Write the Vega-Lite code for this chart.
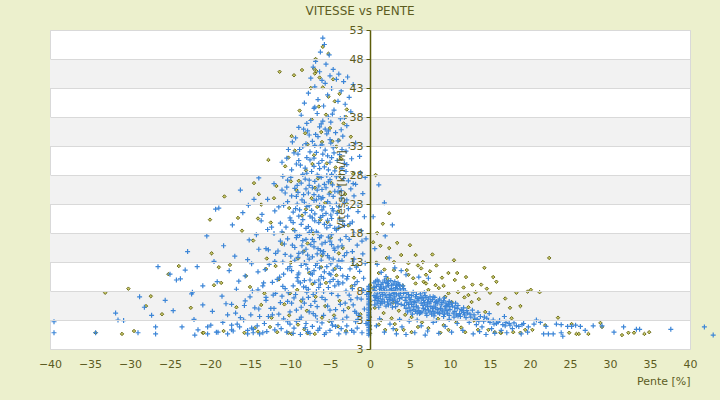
{
  "$schema": "https://vega.github.io/schema/vega-lite/v6.json",
  "width": 640,
  "height": 319,
  "autosize": "none",
  "padding": {"left": 50, "top": 30, "right": 30, "bottom": 51},
  "background": "#ecf0cd",
  "title": {"text": "VITESSE vs PENTE", "fontSize": 12, "fontWeight": "normal", "color": "#5c5c1f", "offset": 6, "dx": -10},
  "config": {
    "font": "DejaVu Sans",
    "view": {"stroke": "#d9d9d9", "fill": "white"},
    "axis": {"labelColor": "#5c5c1f", "titleColor": "#5c5c1f", "labelFontSize": 11, "titleFontSize": 11, "titleFontWeight": "normal", "labelOverlap": false}
  },
  "datasets": {
    "bands": [{"lo": 3, "hi": 8}, {"lo": 13, "hi": 18}, {"lo": 23, "hi": 28}, {"lo": 33, "hi": 38}, {"lo": 43, "hi": 48}],
    "olive": [
      {"x":-5.9,"y":50.1},{"x":-5.2,"y":48.9},{"x":-6.8,"y":48.0},{"x":-6.7,"y":45.9},{"x":-11.3,"y":45.8},{"x":-9.5,"y":45.2},{"x":-8.5,"y":46.1},{"x":-7.0,"y":46.3},{"x":-6.9,"y":45.5},{"x":-6.3,"y":44.8},{"x":-4.6,"y":44.5},{"x":-5.9,"y":43.1},{"x":-3.8,"y":42.0},{"x":-4.4,"y":40.7},{"x":-6.4,"y":39.8},{"x":-2.9,"y":39.3},{"x":-5.5,"y":38.4},{"x":-7.3,"y":37.6},{"x":-3.3,"y":36.9},{"x":-5.0,"y":36.1},{"x":-8.1,"y":35.2},{"x":-2.4,"y":34.6},{"x":-6.0,"y":33.7},{"x":-4.2,"y":32.9},{"x":-9.4,"y":32.2},{"x":-7.0,"y":31.4},{"x":-3.6,"y":30.8},{"x":-5.4,"y":30.0},{"x":-10.6,"y":29.5},{"x":-8.0,"y":28.8},{"x":-2.1,"y":28.2},{"x":-6.5,"y":27.4},{"x":-4.8,"y":26.6},{"x":-11.7,"y":26.1},{"x":-9.2,"y":25.4},{"x":-3.1,"y":24.7},{"x":-7.3,"y":24.0},{"x":-5.6,"y":23.2},{"x":-13.6,"y":22.9},{"x":-10.1,"y":22.3},{"x":-4.0,"y":21.7},{"x":-8.5,"y":21.0},{"x":-6.2,"y":20.3},{"x":-12.4,"y":19.8},{"x":-2.7,"y":19.3},{"x":-9.6,"y":18.6},{"x":-7.1,"y":17.9},{"x":-4.9,"y":17.2},{"x":-14.6,"y":16.7},{"x":-11.0,"y":16.1},{"x":-3.4,"y":15.4},{"x":-8.3,"y":14.8},{"x":-6.0,"y":14.1},{"x":-12.9,"y":13.6},{"x":-9.9,"y":12.9},{"x":-1.6,"y":12.5},{"x":-4.4,"y":11.8},{"x":-7.6,"y":11.1},{"x":-15.5,"y":10.6},{"x":-11.4,"y":10.0},{"x":-5.5,"y":9.4},{"x":-2.3,"y":8.8},{"x":-9.1,"y":8.2},{"x":-13.2,"y":7.6},{"x":-6.8,"y":7.0},{"x":-3.8,"y":6.3},{"x":-10.7,"y":5.7},{"x":-16.7,"y":5.2},{"x":-7.9,"y":4.6},{"x":-1.2,"y":4.0},{"x":-12.3,"y":3.4},{"x":-5.1,"y":2.8},{"x":-9.0,"y":2.2},{"x":-14.4,"y":1.6},{"x":-3.0,"y":1.1},{"x":-6.9,"y":0.6},{"x":-11.6,"y":0.9},{"x":-8.2,"y":1.4},{"x":-4.5,"y":3.8},{"x":-2.0,"y":10.3},{"x":-6.6,"y":22.5},{"x":-5.0,"y":25.0},{"x":-8.9,"y":27.0},{"x":-4.3,"y":29.3},{"x":-7.8,"y":33.3},{"x":-3.9,"y":34.0},{"x":-10.2,"y":31.0},{"x":-12.0,"y":24.0},{"x":-14.0,"y":20.5},{"x":-16.0,"y":18.4},{"x":-13.0,"y":11.8},{"x":-15.0,"y":8.7},{"x":-17.5,"y":12.5},{"x":-18.6,"y":9.4},{"x":-20.0,"y":20.3},{"x":-18.2,"y":24.3},
      {"x":-7.4,"y":43.0},{"x":-5.2,"y":41.5},{"x":-8.8,"y":39.1},{"x":-3.0,"y":38.0},{"x":-6.1,"y":35.4},{"x":-9.8,"y":34.7},{"x":-4.7,"y":33.8},{"x":-7.2,"y":29.9},{"x":-3.8,"y":27.9},{"x":-9.9,"y":26.9},{"x":-6.9,"y":25.8},{"x":-2.9,"y":23.0},{"x":-8.0,"y":22.1},{"x":-5.3,"y":19.9},{"x":-10.9,"y":18.0},{"x":-7.8,"y":16.2},{"x":-3.9,"y":14.5},{"x":-9.0,"y":13.6},{"x":-6.1,"y":12.1},{"x":-11.8,"y":12.3},{"x":-4.2,"y":10.7},{"x":-7.2,"y":9.2},{"x":-10.0,"y":7.6},{"x":-5.6,"y":5.4},{"x":-8.6,"y":6.3},{"x":-2.7,"y":5.1},{"x":-13.6,"y":5.6},{"x":-6.0,"y":3.4},{"x":-10.1,"y":3.8},{"x":-4.0,"y":1.9},{"x":-7.8,"y":0.7},{"x":-9.8,"y":0.6},
      {"x":-34.3,"y":0.8},{"x":-31.0,"y":0.6},{"x":-29.5,"y":1.1},{"x":-20.9,"y":0.8},{"x":-18.3,"y":1.1},{"x":-15.7,"y":0.8},{"x":-14.0,"y":1.0},{"x":-12.5,"y":1.8},{"x":-10.2,"y":0.8},{"x":-33.1,"y":7.7},{"x":-30.2,"y":8.4},{"x":-27.4,"y":7.1},{"x":-25.2,"y":10.9},{"x":-23.9,"y":12.3},{"x":-28.0,"y":5.4},{"x":-22.4,"y":5.1},{"x":-20.8,"y":0.8},{"x":-19.8,"y":14.5},{"x":-18.9,"y":12.1},{"x":-19.5,"y":9.0},{"x":-16.5,"y":20.6},{"x":-12.7,"y":30.6},{"x":-14.5,"y":26.6},{"x":-13.9,"y":24.7},{"x":-26.0,"y":4.0},
      {"x":0.9,"y":18.0},{"x":0.4,"y":16.4},{"x":2.4,"y":15.4},{"x":3.9,"y":14.2},{"x":5.7,"y":14.2},{"x":6.6,"y":13.0},{"x":4.8,"y":12.8},{"x":2.1,"y":13.7},{"x":1.1,"y":11.1},{"x":4.8,"y":10.8},{"x":7.0,"y":10.8},{"x":9.8,"y":11.1},{"x":12.0,"y":10.4},{"x":15.8,"y":9.6},{"x":18.3,"y":7.7},{"x":19.7,"y":7.9},{"x":20.1,"y":8.2},{"x":15.0,"y":7.7},{"x":13.2,"y":7.8},{"x":12.3,"y":7.3},{"x":11.0,"y":7.8},{"x":9.8,"y":7.6},{"x":8.6,"y":8.5},{"x":7.3,"y":8.2},{"x":8.2,"y":9.0},{"x":5.7,"y":9.3},{"x":9.4,"y":7.0},{"x":10.2,"y":6.1},{"x":12.7,"y":6.1},{"x":12.3,"y":5.2},{"x":17.5,"y":5.1},{"x":17.7,"y":3.3},{"x":19.4,"y":1.3},{"x":20.3,"y":1.3},{"x":16.4,"y":0.8},{"x":15.6,"y":0.9},{"x":14.8,"y":1.3},{"x":13.5,"y":1.3},{"x":11.9,"y":0.9},{"x":9.8,"y":1.3},{"x":8.8,"y":0.8},{"x":7.3,"y":1.6},{"x":6.0,"y":1.8},{"x":5.2,"y":0.9},{"x":4.2,"y":1.3},{"x":3.3,"y":1.3},{"x":1.9,"y":1.3},{"x":1.4,"y":3.0},{"x":1.7,"y":4.2},{"x":2.7,"y":3.3},{"x":3.6,"y":4.6},{"x":4.4,"y":3.9},{"x":5.2,"y":3.5},{"x":0.4,"y":8.5},{"x":31.5,"y":0.4},{"x":32.3,"y":0.8},{"x":33.0,"y":0.8},{"x":34.3,"y":0.6},{"x":34.9,"y":0.9},{"x":28.8,"y":2.5},{"x":29.0,"y":1.8},{"x":27.3,"y":0.6},{"x":25.8,"y":0.6},{"x":26.1,"y":0.6},{"x":25.2,"y":2.3},{"x":24.9,"y":0.8},{"x":18.8,"y":0.8},{"x":17.9,"y":0.9},{"x":16.3,"y":0.8},{"x":22.4,"y":13.7},{"x":15.4,"y":10.4},{"x":21.2,"y":7.8},{"x":23.5,"y":3.4},{"x":21.9,"y":2.1},{"x":10.6,"y":9.9},{"x":11.7,"y":8.6},{"x":13.9,"y":9.1},{"x":6.4,"y":11.9},{"x":3.0,"y":11.6},{"x":8.3,"y":12.4},{"x":2.2,"y":10.1},{"x":0.8,"y":12.9},{"x":1.6,"y":19.6},{"x":2.4,"y":21.4},{"x":0.7,"y":28.0},{"x":3.4,"y":16.3},{"x":5.0,"y":15.9},{"x":7.8,"y":14.3},{"x":10.5,"y":13.3},{"x":14.3,"y":12.0},{"x":4.1,"y":8.9},{"x":6.7,"y":9.6},{"x":2.9,"y":6.0},{"x":0.6,"y":5.1},{"x":1.1,"y":2.2},{"x":8.5,"y":3.2},{"x":10.8,"y":2.6},{"x":13.0,"y":2.9},{"x":14.4,"y":4.4},{"x":16.0,"y":5.8},
      {"x":1.3,"y":15.8},{"x":3.0,"y":13.0},{"x":4.6,"y":11.6},{"x":6.0,"y":12.4},{"x":7.5,"y":11.4},{"x":9.0,"y":10.3},{"x":10.9,"y":11.1},{"x":12.8,"y":9.1},{"x":14.6,"y":8.4},{"x":16.9,"y":6.7},{"x":18.8,"y":5.4},{"x":5.4,"y":10.2},{"x":3.4,"y":10.4},{"x":1.8,"y":11.7},{"x":11.8,"y":6.9},{"x":13.6,"y":6.6},{"x":9.2,"y":8.9},{"x":7.0,"y":9.3},{"x":3.1,"y":2.3},{"x":6.5,"y":2.6},{"x":9.2,"y":2.1},{"x":11.4,"y":1.7},
      {"x":0.0,"y":0.7},{"x":0.0,"y":2.0},{"x":0.0,"y":3.5},{"x":0.0,"y":4.9},{"x":0.0,"y":6.2},{"x":0.0,"y":7.7},{"x":0.0,"y":9.0},{"x":0.0,"y":1.4},{"x":0.0,"y":5.6}
    ],
    "blue": [
      {"x":-5.9,"y":51.6},{"x":-5.7,"y":50.5},{"x":-6.2,"y":49.2},{"x":-5.1,"y":48.7},{"x":-6.8,"y":47.6},{"x":-5.5,"y":47.1},{"x":-7.1,"y":46.6},{"x":-4.6,"y":46.2},{"x":-6.3,"y":45.8},{"x":-3.9,"y":45.4},{"x":-5.0,"y":45.1},{"x":-2.8,"y":44.9},{"x":-7.4,"y":44.7},{"x":-4.2,"y":44.5},{"x":-6.0,"y":44.3},{"x":-3.3,"y":44.1},{"x":-5.6,"y":43.8},{"x":-2.1,"y":43.6},{"x":-6.9,"y":43.2},{"x":-4.8,"y":42.9},{"x":-3.6,"y":42.5},{"x":-7.7,"y":42.1},{"x":-5.3,"y":41.8},{"x":-2.6,"y":41.4},{"x":-6.5,"y":41.0},{"x":-4.0,"y":40.7},{"x":-8.2,"y":40.4},{"x":-3.1,"y":40.2},{"x":-5.8,"y":39.9},{"x":-7.0,"y":39.5},{"x":-4.5,"y":39.2},{"x":-2.4,"y":38.9},{"x":-6.6,"y":38.6},{"x":-8.6,"y":38.3},{"x":-5.2,"y":38.0},{"x":-3.7,"y":37.7},{"x":-7.4,"y":37.4},{"x":-4.9,"y":37.1},{"x":-6.1,"y":36.8},{"x":-2.9,"y":36.5},{"x":-8.9,"y":36.2},{"x":-5.6,"y":35.9},{"x":-7.8,"y":35.6},{"x":-4.3,"y":35.3},{"x":-6.8,"y":35.0},{"x":-3.4,"y":34.7},{"x":-9.3,"y":34.4},{"x":-5.0,"y":34.1},{"x":-7.2,"y":33.8},{"x":-1.8,"y":33.5},{"x":-6.0,"y":33.2},{"x":-8.4,"y":32.9},{"x":-4.6,"y":32.7},{"x":-10.2,"y":32.4},{"x":-3.0,"y":32.1},{"x":-6.7,"y":31.9},{"x":-9.0,"y":31.6},{"x":-5.3,"y":31.3},{"x":-7.9,"y":31.0},{"x":-2.3,"y":30.8},{"x":-4.1,"y":30.5},{"x":-11.0,"y":30.2},{"x":-6.4,"y":30.0},{"x":-8.7,"y":29.7},{"x":-5.7,"y":29.4},{"x":-3.5,"y":29.1},{"x":-9.8,"y":28.9},{"x":-7.3,"y":28.6},{"x":-1.2,"y":28.4},{"x":-4.8,"y":28.1},{"x":-10.9,"y":27.8},{"x":-6.1,"y":27.6},{"x":-8.1,"y":27.3},{"x":-2.7,"y":27.0},{"x":-5.2,"y":26.8},{"x":-12.0,"y":26.5},{"x":-7.6,"y":26.2},{"x":-3.9,"y":26.0},{"x":-9.4,"y":25.7},{"x":-6.6,"y":25.4},{"x":-4.4,"y":25.2},{"x":-10.6,"y":24.9},{"x":-8.3,"y":24.6},{"x":-2.0,"y":24.4},{"x":-5.9,"y":24.1},{"x":-12.8,"y":23.8},{"x":-7.0,"y":23.6},{"x":-3.2,"y":23.3},{"x":-9.1,"y":23.0},{"x":-6.3,"y":22.8},{"x":-11.4,"y":22.5},{"x":-4.7,"y":22.2},{"x":-8.8,"y":22.0},{"x":-1.5,"y":21.7},{"x":-5.5,"y":21.4},{"x":-13.5,"y":21.2},{"x":-7.5,"y":20.9},{"x":-10.0,"y":20.6},{"x":-3.8,"y":20.4},{"x":-6.9,"y":20.1},{"x":-9.6,"y":19.8},{"x":-2.5,"y":19.6},{"x":-5.0,"y":19.3},{"x":-12.3,"y":19.0},{"x":-8.0,"y":18.8},{"x":-4.2,"y":18.5},{"x":-11.0,"y":18.2},{"x":-6.5,"y":18.0},{"x":-14.2,"y":17.7},{"x":-3.0,"y":17.4},{"x":-9.2,"y":17.2},{"x":-7.2,"y":16.9},{"x":-1.0,"y":16.6},{"x":-5.6,"y":16.4},{"x":-10.7,"y":16.1},{"x":-8.5,"y":15.8},{"x":-4.0,"y":15.6},{"x":-13.0,"y":15.3},{"x":-6.2,"y":15.0},{"x":-2.2,"y":14.8},{"x":-11.8,"y":14.5},{"x":-7.8,"y":14.2},{"x":-9.9,"y":14.0},{"x":-5.1,"y":13.7},{"x":-15.3,"y":13.4},{"x":-3.5,"y":13.2},{"x":-8.2,"y":12.9},{"x":-12.6,"y":12.6},{"x":-6.8,"y":12.4},{"x":-1.7,"y":12.1},{"x":-10.3,"y":11.8},{"x":-4.6,"y":11.6},{"x":-14.0,"y":11.3},{"x":-7.4,"y":11.0},{"x":-9.0,"y":10.8},{"x":-2.8,"y":10.5},{"x":-5.8,"y":10.2},{"x":-11.6,"y":10.0},{"x":-16.4,"y":9.7},{"x":-8.7,"y":9.4},{"x":-3.9,"y":9.2},{"x":-13.4,"y":8.9},{"x":-6.4,"y":8.6},{"x":-10.6,"y":8.4},{"x":-0.8,"y":8.1},{"x":-7.9,"y":7.8},{"x":-4.8,"y":7.6},{"x":-12.1,"y":7.3},{"x":-15.0,"y":7.0},{"x":-9.5,"y":6.8},{"x":-2.4,"y":6.5},{"x":-6.9,"y":6.2},{"x":-11.2,"y":6.0},{"x":-17.3,"y":5.7},{"x":-5.3,"y":5.4},{"x":-8.6,"y":5.2},{"x":-13.9,"y":4.9},{"x":-3.3,"y":4.6},{"x":-10.0,"y":4.4},{"x":-7.1,"y":4.1},{"x":-1.4,"y":3.8},{"x":-12.7,"y":3.6},{"x":-4.4,"y":3.3},{"x":-15.8,"y":3.0},{"x":-9.2,"y":2.8},{"x":-6.0,"y":2.5},{"x":-11.5,"y":2.2},{"x":-2.9,"y":2.0},{"x":-8.1,"y":1.7},{"x":-14.6,"y":1.4},{"x":-5.0,"y":1.2},{"x":-10.4,"y":0.9},{"x":-7.5,"y":0.7},{"x":-3.6,"y":1.5},{"x":-12.9,"y":1.0},
      {"x":-6.5,"y":34.6},{"x":-4.0,"y":33.9},{"x":-8.0,"y":33.4},{"x":-5.6,"y":32.3},{"x":-9.5,"y":31.8},{"x":-3.8,"y":31.5},{"x":-7.0,"y":30.9},{"x":-5.0,"y":30.2},{"x":-8.9,"y":30.5},{"x":-2.9,"y":29.8},{"x":-6.3,"y":29.1},{"x":-4.4,"y":28.7},{"x":-7.9,"y":28.3},{"x":-9.9,"y":27.6},{"x":-5.4,"y":27.9},{"x":-3.3,"y":27.4},{"x":-6.9,"y":26.9},{"x":-8.6,"y":26.6},{"x":-4.7,"y":26.3},{"x":-10.4,"y":25.9},{"x":-2.4,"y":25.6},{"x":-6.0,"y":25.5},{"x":-7.7,"y":24.9},{"x":-5.1,"y":24.7},{"x":-9.2,"y":24.3},{"x":-3.6,"y":24.0},{"x":-6.7,"y":23.7},{"x":-8.2,"y":23.3},{"x":-4.2,"y":23.0},{"x":-10.8,"y":22.8},{"x":-5.8,"y":22.5},{"x":-2.7,"y":22.2},{"x":-7.3,"y":21.9},{"x":-9.6,"y":21.6},{"x":-4.9,"y":21.1},{"x":-6.2,"y":20.7},{"x":-8.4,"y":20.3},{"x":-3.4,"y":20.0},{"x":-11.2,"y":19.7},{"x":-5.7,"y":19.5},{"x":-7.7,"y":19.1},{"x":-4.4,"y":18.8},{"x":-9.4,"y":18.4},{"x":-6.7,"y":18.2},{"x":-2.0,"y":18.0},{"x":-8.8,"y":17.6},{"x":-5.2,"y":17.3},{"x":-10.3,"y":17.0},{"x":-3.7,"y":16.8},{"x":-7.0,"y":16.5},{"x":-6.0,"y":16.1},{"x":-9.7,"y":15.9},{"x":-4.5,"y":15.4},{"x":-8.0,"y":15.2},{"x":-11.5,"y":14.9},{"x":-2.9,"y":14.6},{"x":-6.6,"y":14.4},{"x":-5.3,"y":14.1},{"x":-9.0,"y":13.8},{"x":-7.6,"y":13.5},{"x":-3.9,"y":13.2},{"x":-10.9,"y":13.0},{"x":-4.9,"y":12.7},{"x":-8.6,"y":12.4},{"x":-6.3,"y":12.0},{"x":-2.5,"y":11.8},{"x":-9.8,"y":11.5},{"x":-5.7,"y":11.3},{"x":-7.2,"y":10.9},{"x":-3.4,"y":10.6},{"x":-11.3,"y":10.4},{"x":-4.6,"y":10.0},{"x":-8.2,"y":9.8},{"x":-6.9,"y":9.5},{"x":-1.9,"y":9.1},{"x":-9.6,"y":8.9},{"x":-5.2,"y":8.6},{"x":-7.7,"y":8.3},{"x":-3.0,"y":8.0},{"x":-10.2,"y":7.7},
      {"x":-6.2,"y":33.0},{"x":-5.2,"y":35.6},{"x":-7.5,"y":32.0},{"x":-4.8,"y":31.0},{"x":-3.2,"y":30.0},{"x":-8.1,"y":29.2},{"x":-6.6,"y":28.0},{"x":-5.0,"y":27.2},{"x":-7.2,"y":25.8},{"x":-9.0,"y":25.0},{"x":-4.0,"y":25.1},{"x":-6.4,"y":24.3},{"x":-5.3,"y":23.4},{"x":-7.9,"y":22.6},{"x":-4.6,"y":21.8},{"x":-6.9,"y":21.3},{"x":-8.9,"y":20.9},{"x":-5.3,"y":20.2},{"x":-3.9,"y":19.0},{"x":-7.3,"y":18.5},{"x":-6.1,"y":17.5},{"x":-8.4,"y":16.7},{"x":-4.8,"y":16.0},{"x":-7.0,"y":15.6},{"x":-5.8,"y":14.8},{"x":-8.9,"y":14.5},{"x":-6.1,"y":13.3},{"x":-4.1,"y":12.3},{"x":-7.8,"y":11.8},{"x":-5.1,"y":11.0},{"x":-9.1,"y":10.3},{"x":-6.4,"y":9.9},{"x":-4.0,"y":9.6},{"x":-8.3,"y":8.7},{"x":-5.8,"y":7.9},{"x":-7.1,"y":7.4},
      {"x":-6.9,"y":39.7},{"x":-4.7,"y":38.5},{"x":-5.9,"y":37.3},{"x":-7.9,"y":36.9},{"x":-3.2,"y":37.9},{"x":-6.3,"y":36.3},{"x":-8.3,"y":35.9},{"x":-5.4,"y":35.1},{"x":-3.6,"y":35.8},{"x":-7.6,"y":34.9},{"x":-9.7,"y":33.7},{"x":-4.9,"y":33.5},{"x":-6.9,"y":33.1},{"x":-2.6,"y":33.0},{"x":-8.8,"y":32.4},{"x":-5.9,"y":31.6},{"x":-3.5,"y":32.4},{"x":-7.5,"y":30.6},{"x":-10.4,"y":30.9},{"x":-6.0,"y":30.5},{"x":-4.5,"y":31.8},
      {"x":-9.2,"y":29.9},{"x":-7.0,"y":29.5},{"x":-5.2,"y":28.9},{"x":-3.0,"y":28.6},{"x":-8.4,"y":28.1},{"x":-6.4,"y":27.8},{"x":-10.3,"y":27.1},{"x":-4.2,"y":27.7},{"x":-7.6,"y":27.1},{"x":-5.7,"y":26.4},{"x":-9.1,"y":26.2},{"x":-2.1,"y":26.5},{"x":-6.4,"y":26.1},{"x":-8.0,"y":25.6},{"x":-3.6,"y":25.3},{"x":-11.0,"y":25.4},{"x":-5.5,"y":25.8},
      {"x":-7.0,"y":24.6},{"x":-9.8,"y":24.4},{"x":-4.6,"y":24.3},{"x":-6.1,"y":23.9},{"x":-8.5,"y":23.7},{"x":-2.9,"y":23.7},{"x":-10.3,"y":23.4},{"x":-5.0,"y":23.0},{"x":-7.6,"y":22.7},{"x":-3.9,"y":22.5},{"x":-9.3,"y":22.2},{"x":-6.0,"y":22.0},{"x":-11.9,"y":21.8},{"x":-8.1,"y":21.5},{"x":-4.1,"y":21.4},{"x":-5.9,"y":21.0},{"x":-7.2,"y":20.6},{"x":-9.9,"y":20.2},{"x":-2.8,"y":20.9},{"x":-4.8,"y":20.5},
      {"x":-6.4,"y":19.8},{"x":-8.6,"y":19.5},{"x":-3.2,"y":19.3},{"x":-10.5,"y":19.0},{"x":-5.4,"y":18.9},{"x":-7.6,"y":18.1},{"x":-12.0,"y":17.9},{"x":-4.8,"y":17.7},{"x":-9.1,"y":17.6},{"x":-6.3,"y":17.2},{"x":-2.6,"y":16.9},{"x":-8.0,"y":16.9},{"x":-11.2,"y":16.6},{"x":-5.0,"y":16.6},{"x":-7.4,"y":16.0},{"x":-3.5,"y":15.8},{"x":-9.4,"y":15.5},{"x":-6.5,"y":15.3},{"x":-12.7,"y":15.1},{"x":-4.4,"y":15.0},
      {"x":-8.4,"y":14.7},{"x":-5.9,"y":14.4},{"x":-10.6,"y":14.3},{"x":-3.2,"y":14.1},{"x":-7.2,"y":13.9},{"x":-4.6,"y":13.5},{"x":-9.4,"y":13.3},{"x":-11.9,"y":13.1},{"x":-6.6,"y":12.8},{"x":-2.2,"y":13.0},{"x":-8.0,"y":12.6},{"x":-5.4,"y":12.2},{"x":-10.0,"y":12.2},{"x":-3.7,"y":11.9},{"x":-7.0,"y":11.5},{"x":-13.1,"y":11.7},{"x":-8.9,"y":11.1},{"x":-4.9,"y":10.8},{"x":-6.1,"y":10.5},{"x":-10.8,"y":10.9},{"x":-2.9,"y":10.1},
      {"x":-7.5,"y":9.9},{"x":-5.0,"y":9.6},{"x":-9.0,"y":9.7},{"x":-3.4,"y":9.4},{"x":-12.2,"y":9.5},{"x":-6.2,"y":9.2},{"x":-10.9,"y":8.8},{"x":-4.4,"y":8.9},{"x":-8.0,"y":8.6},{"x":-2.2,"y":8.4},{"x":-14.0,"y":8.2},{"x":-6.7,"y":7.9},{"x":-11.8,"y":7.6},{"x":-9.3,"y":7.4},{"x":-4.0,"y":7.2},{"x":-7.7,"y":6.9},{"x":-1.6,"y":6.8},{"x":-13.0,"y":6.4},{"x":-5.6,"y":6.5},{"x":-10.3,"y":6.2},{"x":-8.2,"y":5.9},{"x":-3.1,"y":5.9},{"x":-15.7,"y":5.5},{"x":-6.6,"y":5.3},{"x":-12.4,"y":5.0},{"x":-4.3,"y":4.8},{"x":-9.2,"y":4.7},{"x":-1.9,"y":4.5},{"x":-7.6,"y":4.4},
      {"x":-11.4,"y":4.0},{"x":-5.8,"y":3.8},{"x":-14.9,"y":3.9},{"x":-8.6,"y":3.5},{"x":-3.4,"y":3.0},{"x":-10.3,"y":2.7},{"x":-6.6,"y":2.9},{"x":-13.2,"y":2.4},{"x":-1.8,"y":2.7},{"x":-4.7,"y":2.1},{"x":-16.6,"y":2.3},{"x":-9.5,"y":1.6},{"x":-7.2,"y":1.9},{"x":-11.9,"y":1.3},{"x":-3.0,"y":0.8},{"x":-5.7,"y":0.5},{"x":-8.7,"y":0.5},{"x":-13.8,"y":0.6},{"x":-1.6,"y":1.6},{"x":-6.5,"y":1.2},
      {"x":-1.3,"y":31.2},{"x":-0.6,"y":27.6},{"x":-1.8,"y":26.4},{"x":-0.9,"y":24.8},{"x":-1.5,"y":22.9},{"x":-0.7,"y":20.8},{"x":-2.2,"y":19.9},{"x":-1.1,"y":18.4},{"x":-0.5,"y":17.0},{"x":-1.6,"y":15.9},{"x":-0.9,"y":14.4},{"x":-2.0,"y":13.5},{"x":-0.6,"y":12.8},{"x":-1.3,"y":11.4},{"x":-0.8,"y":10.2},{"x":-1.6,"y":9.6},{"x":-0.4,"y":7.4},{"x":-1.1,"y":6.6},{"x":-2.1,"y":5.6},{"x":-0.7,"y":4.9},{"x":-1.5,"y":3.1},{"x":-0.5,"y":2.4},{"x":-2.3,"y":1.2},{"x":-1.0,"y":0.8},
      {"x":-21.5,"y":1.3},{"x":-20.3,"y":1.8},{"x":-19.0,"y":0.9},{"x":-18.4,"y":2.6},{"x":-17.1,"y":1.1},{"x":-16.2,"y":3.4},{"x":-15.3,"y":0.6},{"x":-14.1,"y":2.0},{"x":-13.4,"y":0.8},{"x":-12.2,"y":3.9},{"x":-11.1,"y":1.5},{"x":-10.0,"y":2.3},{"x":-9.6,"y":0.7},{"x":-8.8,"y":3.1},{"x":-7.8,"y":1.0},{"x":-6.8,"y":3.7},{"x":-6.3,"y":1.6},{"x":-5.5,"y":0.8},{"x":-4.8,"y":2.7},{"x":-3.9,"y":0.6},{"x":-2.9,"y":3.5},{"x":-2.0,"y":0.9},{"x":-19.7,"y":4.5},{"x":-18.0,"y":5.8},{"x":-16.8,"y":4.2},{"x":-15.6,"y":6.3},{"x":-14.4,"y":5.1},{"x":-13.0,"y":6.9},{"x":-12.0,"y":5.0},{"x":-11.0,"y":7.1},{"x":-9.8,"y":5.9},{"x":-8.4,"y":6.6},{"x":-7.4,"y":5.5},{"x":-6.0,"y":6.9},{"x":-5.0,"y":4.7},{"x":-3.7,"y":5.7},{"x":-2.6,"y":7.3},{"x":-1.7,"y":4.2},{"x":-4.3,"y":1.9},{"x":-8.0,"y":2.4},{"x":-10.8,"y":3.2},{"x":-13.8,"y":3.6},{"x":-17.8,"y":3.9},
      {"x":-18.9,"y":22.3},{"x":-16.2,"y":25.4},{"x":-19.3,"y":22.1},{"x":-14.5,"y":23.8},{"x":-15.9,"y":21.5},{"x":-13.6,"y":20.1},{"x":-17.2,"y":19.4},{"x":-12.8,"y":18.6},{"x":-20.4,"y":17.5},{"x":-15.1,"y":16.8},{"x":-18.3,"y":15.8},{"x":-13.9,"y":15.2},{"x":-22.8,"y":14.8},{"x":-16.9,"y":14.0},{"x":-19.5,"y":13.1},{"x":-14.8,"y":12.7},{"x":-21.6,"y":12.2},{"x":-17.6,"y":11.5},{"x":-25.0,"y":10.9},{"x":-15.6,"y":10.6},{"x":-23.7,"y":10.1},{"x":-19.1,"y":9.6},{"x":-13.3,"y":9.4},{"x":-20.9,"y":8.9},{"x":-16.7,"y":8.3},{"x":-26.5,"y":12.2},{"x":-22.2,"y":7.8},{"x":-18.5,"y":7.1},{"x":-14.7,"y":8.0},{"x":-13.9,"y":27.5},{"x":-15.2,"y":22.8},
      {"x":-39.5,"y":0.8},{"x":-39.5,"y":2.7},{"x":-34.3,"y":0.8},{"x":-31.8,"y":4.2},{"x":-31.5,"y":3.0},{"x":-30.8,"y":2.9},{"x":-29.0,"y":0.8},{"x":-28.2,"y":5.2},{"x":-27.3,"y":3.8},{"x":-26.8,"y":1.8},{"x":-26.8,"y":0.6},{"x":-25.6,"y":6.4},{"x":-24.2,"y":9.9},{"x":-24.6,"y":4.6},{"x":-23.5,"y":1.8},{"x":-22.3,"y":7.5},{"x":-22.0,"y":3.1},{"x":-21.9,"y":0.4},{"x":-20.9,"y":5.6},{"x":-20.3,"y":0.6},{"x":-19.9,"y":2.1},{"x":-19.2,"y":0.9},{"x":-17.8,"y":0.6},{"x":-17.3,"y":2.1},{"x":-17.3,"y":1.3},{"x":-16.3,"y":1.8},{"x":-15.3,"y":1.2},{"x":-14.8,"y":1.6},{"x":-14.6,"y":0.8},{"x":-23.1,"y":11.6},{"x":-28.8,"y":7.0},
      {"x":0.5,"y":9.4},{"x":0.8,"y":8.8},{"x":1.1,"y":9.7},{"x":1.4,"y":9.1},{"x":1.7,"y":8.5},{"x":2.0,"y":9.5},{"x":2.3,"y":8.9},{"x":2.6,"y":9.8},{"x":2.9,"y":9.2},{"x":3.2,"y":8.6},{"x":3.5,"y":9.4},{"x":3.8,"y":8.2},{"x":0.6,"y":8.1},{"x":0.9,"y":7.5},{"x":1.2,"y":8.3},{"x":1.5,"y":7.8},{"x":1.8,"y":9.9},{"x":2.1,"y":8.0},{"x":2.4,"y":7.4},{"x":2.7,"y":8.4},{"x":3.0,"y":7.7},{"x":3.3,"y":9.0},{"x":3.6,"y":7.3},{"x":0.7,"y":6.9},{"x":1.0,"y":6.3},{"x":1.3,"y":7.1},{"x":1.6,"y":6.6},{"x":1.9,"y":7.3},{"x":2.2,"y":6.1},{"x":2.5,"y":6.8},{"x":2.8,"y":6.4},{"x":3.1,"y":7.0},{"x":3.4,"y":6.2},{"x":3.7,"y":6.7},{"x":0.6,"y":5.6},{"x":1.1,"y":5.2},{"x":1.5,"y":5.9},{"x":2.0,"y":5.4},{"x":2.6,"y":5.8},{"x":3.2,"y":5.3},{"x":3.9,"y":5.7},{"x":0.9,"y":9.9},{"x":2.2,"y":9.3},{"x":1.3,"y":8.7},{"x":3.0,"y":8.1},{"x":0.5,"y":7.2},{"x":4.1,"y":8.9},{"x":4.4,"y":7.9},
      {"x":0.5,"y":8.6},{"x":0.7,"y":9.7},{"x":1.0,"y":9.1},{"x":1.2,"y":7.9},{"x":1.4,"y":8.4},{"x":1.6,"y":9.4},{"x":1.8,"y":8.0},{"x":2.0,"y":8.7},{"x":2.3,"y":9.7},{"x":2.5,"y":8.2},{"x":2.7,"y":9.0},{"x":2.9,"y":7.6},{"x":3.1,"y":9.6},{"x":3.4,"y":8.4},{"x":3.6,"y":9.1},{"x":3.8,"y":7.6},{"x":0.6,"y":6.4},{"x":0.8,"y":7.0},{"x":1.1,"y":6.7},{"x":1.3,"y":5.8},{"x":1.6,"y":7.4},{"x":1.8,"y":6.1},{"x":2.1,"y":6.9},{"x":2.3,"y":5.6},{"x":2.6,"y":7.2},{"x":2.8,"y":5.2},{"x":3.0,"y":6.6},{"x":3.3,"y":7.5},{"x":3.5,"y":5.8},{"x":3.7,"y":8.9},{"x":4.0,"y":6.9},{"x":4.2,"y":8.4},{"x":0.9,"y":5.9},{"x":1.4,"y":6.2},{"x":2.4,"y":6.5},{"x":3.2,"y":6.0},
      {"x":4.2,"y":7.6},{"x":4.5,"y":6.9},{"x":4.8,"y":7.4},{"x":5.1,"y":6.5},{"x":5.4,"y":7.8},{"x":5.7,"y":7.0},{"x":6.0,"y":6.3},{"x":6.3,"y":7.5},{"x":6.6,"y":6.8},{"x":6.9,"y":7.2},{"x":7.2,"y":6.1},{"x":7.5,"y":7.0},{"x":7.8,"y":6.5},{"x":8.1,"y":6.9},{"x":8.4,"y":5.8},{"x":8.7,"y":6.6},{"x":9.0,"y":6.0},{"x":9.3,"y":6.8},{"x":9.6,"y":5.5},{"x":9.9,"y":6.2},{"x":4.3,"y":5.5},{"x":4.6,"y":6.0},{"x":4.9,"y":5.1},{"x":5.2,"y":5.7},{"x":5.5,"y":4.8},{"x":5.8,"y":5.4},{"x":6.1,"y":4.6},{"x":6.4,"y":5.9},{"x":6.7,"y":5.0},{"x":7.0,"y":5.6},{"x":7.3,"y":4.7},{"x":7.6,"y":5.3},{"x":7.9,"y":4.5},{"x":8.2,"y":5.1},{"x":8.5,"y":4.3},{"x":8.8,"y":5.0},{"x":9.1,"y":4.4},{"x":9.4,"y":4.9},{"x":9.7,"y":4.2},{"x":10.0,"y":4.8},{"x":10.3,"y":5.4},{"x":10.6,"y":4.5},{"x":10.9,"y":5.0},{"x":11.2,"y":4.1},{"x":11.5,"y":4.6},{"x":11.8,"y":3.9},{"x":4.7,"y":4.4},{"x":5.3,"y":4.0},{"x":6.2,"y":4.1},{"x":7.1,"y":3.8},{"x":8.0,"y":3.7},{"x":9.2,"y":3.6},{"x":10.5,"y":3.5},{"x":11.0,"y":3.7},{"x":6.8,"y":7.7},{"x":5.9,"y":6.7},{"x":4.4,"y":6.4},{"x":8.3,"y":6.2},{"x":7.4,"y":5.9},{"x":9.8,"y":5.7},{"x":10.7,"y":5.9},{"x":6.5,"y":4.4},{"x":5.0,"y":6.1},{"x":7.7,"y":4.0},
      {"x":4.6,"y":7.7},{"x":4.9,"y":6.8},{"x":5.2,"y":7.2},{"x":5.5,"y":6.2},{"x":5.8,"y":7.4},{"x":6.1,"y":6.7},{"x":6.4,"y":6.9},{"x":6.7,"y":6.4},{"x":7.0,"y":6.9},{"x":7.3,"y":6.6},{"x":7.6,"y":6.2},{"x":7.9,"y":7.0},{"x":8.2,"y":6.0},{"x":8.6,"y":6.3},{"x":8.9,"y":5.6},{"x":9.2,"y":6.3},{"x":9.5,"y":5.9},{"x":9.9,"y":5.3},{"x":10.2,"y":5.9},{"x":10.6,"y":5.2},{"x":11.0,"y":5.5},{"x":11.4,"y":4.8},{"x":11.7,"y":5.1},{"x":4.5,"y":5.0},{"x":4.8,"y":5.7},{"x":5.1,"y":4.6},{"x":5.4,"y":5.3},{"x":5.7,"y":4.5},{"x":6.0,"y":5.1},{"x":6.3,"y":4.3},{"x":6.6,"y":5.5},{"x":6.9,"y":4.8},{"x":7.2,"y":5.3},{"x":7.5,"y":4.4},{"x":7.8,"y":5.0},{"x":8.1,"y":4.2},{"x":8.4,"y":4.8},{"x":8.7,"y":4.1},{"x":9.0,"y":4.7},{"x":9.3,"y":4.0},{"x":9.6,"y":4.6},{"x":9.9,"y":3.8},{"x":10.4,"y":4.2},{"x":10.8,"y":3.9},{"x":11.3,"y":3.6},{"x":11.7,"y":4.3},{"x":5.6,"y":6.0},{"x":6.8,"y":6.0},{"x":8.0,"y":5.4},{"x":9.4,"y":5.3},{"x":7.0,"y":4.2},{"x":5.9,"y":4.2},
      {"x":12.2,"y":4.2},{"x":12.6,"y":3.5},{"x":13.0,"y":3.9},{"x":13.4,"y":3.1},{"x":13.8,"y":3.6},{"x":14.2,"y":2.8},{"x":14.6,"y":3.3},{"x":15.0,"y":2.6},{"x":15.4,"y":3.0},{"x":15.8,"y":2.4},{"x":16.2,"y":2.9},{"x":16.6,"y":2.2},{"x":17.0,"y":2.6},{"x":17.5,"y":2.1},{"x":18.0,"y":2.5},{"x":18.6,"y":1.9},{"x":19.2,"y":2.4},{"x":19.8,"y":1.8},{"x":20.5,"y":2.3},{"x":12.4,"y":2.6},{"x":13.3,"y":2.2},{"x":14.0,"y":1.8},{"x":15.2,"y":1.5},{"x":16.4,"y":1.2},{"x":17.8,"y":1.5},{"x":12.8,"y":4.7},{"x":14.9,"y":4.1},{"x":16.8,"y":3.6},
      {"x":12.0,"y":3.4},{"x":12.5,"y":4.0},{"x":13.1,"y":3.3},{"x":13.6,"y":2.8},{"x":14.3,"y":3.5},{"x":14.8,"y":2.9},{"x":15.5,"y":2.3},{"x":16.0,"y":2.6},{"x":16.9,"y":2.0},{"x":17.4,"y":2.4},{"x":18.3,"y":2.0},{"x":19.0,"y":2.2},{"x":12.1,"y":4.6},{"x":13.5,"y":4.3},
      {"x":20.8,"y":3.0},{"x":21.7,"y":0.6},{"x":22.3,"y":0.6},{"x":22.9,"y":0.6},{"x":23.3,"y":2.3},{"x":23.9,"y":0.8},{"x":23.9,"y":2.2},{"x":24.1,"y":0.2},{"x":24.7,"y":1.9},{"x":25.2,"y":1.9},{"x":25.7,"y":2.1},{"x":26.3,"y":1.9},{"x":27.9,"y":2.0},{"x":29.0,"y":2.0},{"x":30.5,"y":0.9},{"x":31.7,"y":1.8},{"x":33.3,"y":1.4},{"x":33.7,"y":1.4},{"x":37.6,"y":1.4},{"x":41.8,"y":1.8},{"x":42.9,"y":0.4},{"x":21.3,"y":2.6},{"x":22.0,"y":1.9},{"x":26.9,"y":1.2},
      {"x":1.8,"y":0.9},{"x":2.5,"y":2.3},{"x":3.3,"y":0.6},{"x":4.0,"y":1.8},{"x":4.9,"y":2.8},{"x":5.6,"y":0.8},{"x":6.4,"y":2.0},{"x":7.2,"y":1.1},{"x":7.9,"y":2.6},{"x":8.6,"y":0.7},{"x":9.4,"y":1.9},{"x":10.2,"y":0.9},{"x":10.9,"y":2.4},{"x":11.6,"y":1.2},{"x":12.9,"y":0.6},{"x":13.7,"y":1.0},{"x":14.5,"y":0.5},{"x":15.6,"y":0.7},{"x":17.1,"y":0.8},{"x":18.9,"y":0.6},{"x":19.7,"y":0.9},{"x":1.2,"y":3.2},{"x":3.7,"y":3.1},{"x":5.9,"y":3.0},{"x":8.3,"y":2.9},{"x":2.9,"y":1.5},{"x":6.9,"y":0.4},{"x":9.9,"y":3.1},{"x":0.8,"y":2.0},{"x":4.5,"y":0.5},
      {"x":1.1,"y":26.3},{"x":2.8,"y":19.4},{"x":1.9,"y":17.5},{"x":2.4,"y":13.7},{"x":0.9,"y":12.6},{"x":3.1,"y":12.0},{"x":1.4,"y":11.2},{"x":4.5,"y":10.8},{"x":2.0,"y":10.5},{"x":6.1,"y":10.4},{"x":0.6,"y":15.3},{"x":3.9,"y":11.5},{"x":7.3,"y":10.2},{"x":0.4,"y":20.8},{"x":1.8,"y":23.2},
      {"x":-0.15,"y":0.4},{"x":-0.15,"y":0.7},{"x":-0.15,"y":1.1},{"x":-0.15,"y":1.3},{"x":-0.15,"y":1.7},{"x":-0.15,"y":2.0},{"x":-0.15,"y":2.2},{"x":-0.15,"y":2.6},{"x":-0.15,"y":2.9},{"x":-0.15,"y":3.1},{"x":-0.15,"y":3.5},{"x":-0.15,"y":3.8},{"x":-0.15,"y":4.0},{"x":-0.15,"y":4.3},{"x":-0.15,"y":4.7},{"x":-0.15,"y":4.9},{"x":-0.15,"y":5.2},{"x":-0.15,"y":5.6},{"x":-0.15,"y":5.8},{"x":-0.15,"y":6.1},{"x":-0.15,"y":6.5},{"x":-0.15,"y":6.7},{"x":-0.15,"y":7.0},{"x":-0.15,"y":7.4},{"x":-0.15,"y":7.6},{"x":-0.15,"y":7.9},{"x":-0.15,"y":8.3},{"x":-0.15,"y":8.5},{"x":-0.15,"y":8.8}
    ]
  },
  "layer": [
    {
      "data": {"name": "bands"},
      "mark": {"type": "rect", "color": "#f2f2f2"},
      "encoding": {
        "y": {"field": "lo", "type": "quantitative", "scale": {"domain": [-2, 53], "nice": false, "zero": false},
          "axis": {"values": [-2,3,8,13,18,23,28,33,38,43,48,53], "tickCount": 20, "labelExpr": "datum.value < 0 ? '3' : datum.label", "offset": -320, "zindex": 1, "grid": true, "gridColor": "#d9d9d9", "domainColor": "#5c5c0a", "domainWidth": 1.5, "tickColor": "#5c5c0a", "tickSize": 4, "labelPadding": 3, "labelOverlap": false, "title": "Vitesse [km/h]", "titlePadding": 3}},
        "y2": {"field": "hi"}
      }
    },
    {
      "data": {"name": "olive"},
      "mark": {"type": "point", "shape": "diamond", "filled": true, "size": 12, "fill": "#c9c96a", "stroke": "#5f5f0a", "strokeWidth": 0.9, "opacity": 1},
      "encoding": {
        "x": {"field": "x", "type": "quantitative", "scale": {"domain": [-40, 40], "nice": false, "zero": false},
          "axis": {"values": [-40,-35,-30,-25,-20,-15,-10,-5,0,5,10,15,20,25,30,35,40], "tickCount": 20, "grid": false, "domain": false, "ticks": false, "labelPadding": 9, "labelOverlap": false, "labelFlush": false, "title": "Pente [%]", "titleAnchor": "end", "titlePadding": 6}},
        "y": {"field": "y", "type": "quantitative"}
      }
    },
    {
      "data": {"name": "blue"},
      "mark": {"type": "point", "shape": "M-1,0H1M0,-1V1", "filled": false, "size": 25, "stroke": "#3d86d7", "strokeWidth": 1.2, "opacity": 1},
      "encoding": {
        "x": {"field": "x", "type": "quantitative"},
        "y": {"field": "y", "type": "quantitative"}
      }
    }
  ]
}
